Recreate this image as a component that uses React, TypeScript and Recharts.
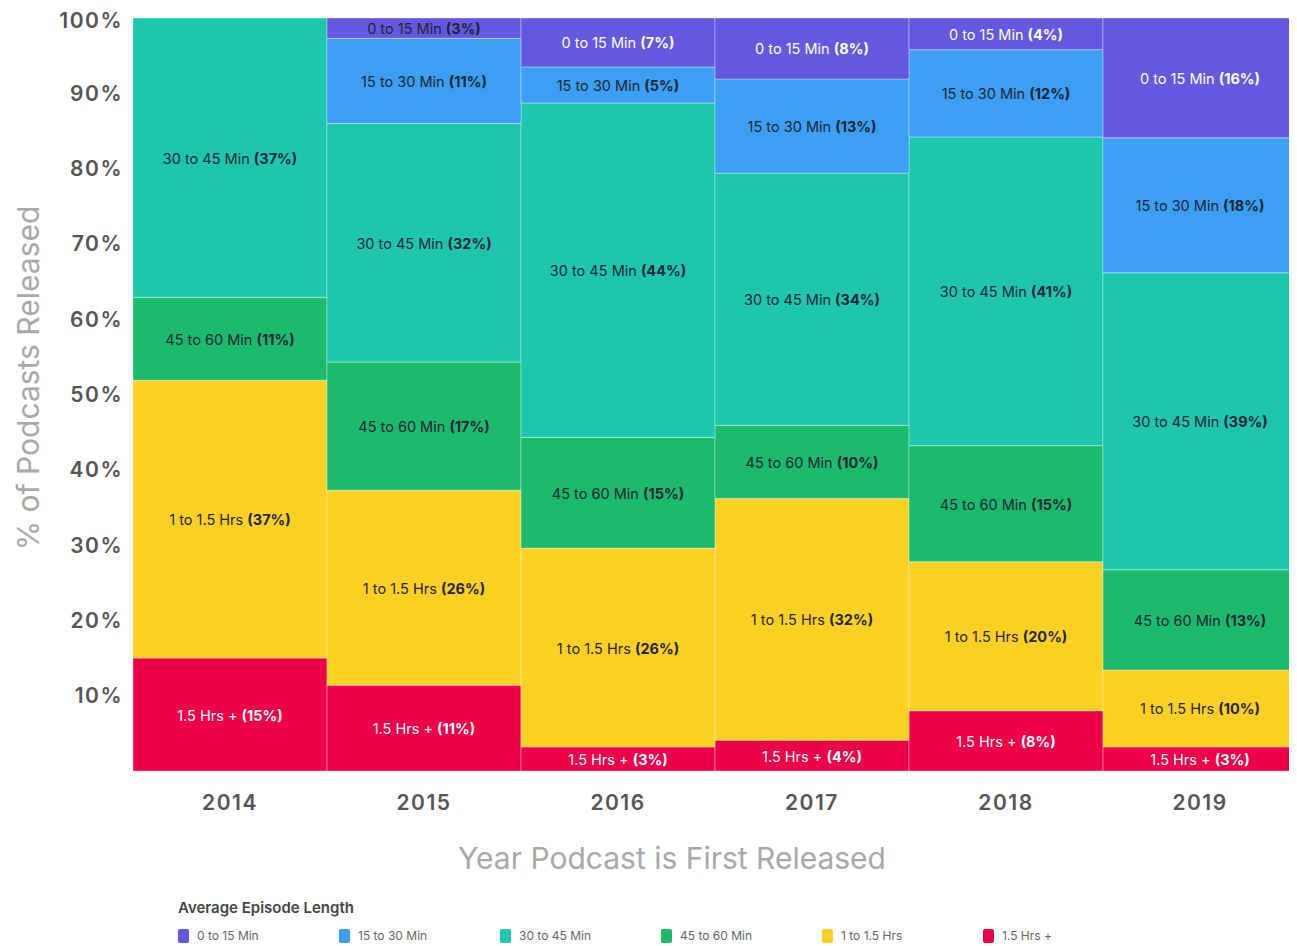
import { Bar, BarChart, LabelList, XAxis, YAxis } from 'recharts';

// Share of podcasts by average episode length, per first-release year (values in %).
const YEARS = ['2014', '2015', '2016', '2017', '2018', '2019'];
const MIN_0_15 = [0, 2.7, 6.5, 8.1, 4.2, 15.9];
const MIN_15_30 = [0, 11.3, 4.8, 12.5, 11.6, 17.9];
const MIN_30_45 = [37.1, 31.7, 44.4, 33.5, 41, 39.4];
const MIN_45_60 = [11, 17, 14.7, 9.7, 15.4, 13.3];
const HRS_1_15 = [36.9, 25.9, 26.4, 32.1, 19.8, 10.2];
const HRS_15_PLUS = [15, 11.4, 3.2, 4.1, 8, 3.2];
const Y_TICKS = [0.1, 0.2, 0.3, 0.4, 0.5, 0.6, 0.7, 0.8, 0.9, 1];

// bottom of the stack first
const SERIES = [
  { key: 'hrs15plus', name: '1.5 Hrs +', color: '#ee0049', ink: '#ffffff' },
  { key: 'hrs1to15', name: '1 to 1.5 Hrs', color: '#fdd124', ink: '#1d2433' },
  { key: 'min45to60', name: '45 to 60 Min', color: '#1bba6c', ink: '#1d2433' },
  { key: 'min30to45', name: '30 to 45 Min', color: '#1ec6ae', ink: '#1d2433' },
  { key: 'min15to30', name: '15 to 30 Min', color: '#3c9ff3', ink: '#1d2433' },
  { key: 'min0to15', name: '0 to 15 Min', color: '#6458e1', ink: '#ffffff' },
];
const VALUES: Record<string, number[]> = {
  hrs15plus: HRS_15_PLUS,
  hrs1to15: HRS_1_15,
  min45to60: MIN_45_60,
  min30to45: MIN_30_45,
  min15to30: MIN_15_30,
  min0to15: MIN_0_15,
};

const data = YEARS.map((year, i) => {
  const row: Record<string, string | number> = { year };
  SERIES.forEach((s) => {
    row[s.key] = VALUES[s.key][i];
  });
  return row;
});

const FONT = 'Inter, "Noto Sans", sans-serif';

function SegmentLabel(props: any, s: (typeof SERIES)[number]) {
  const { x, y, width, height, value } = props;
  const v = Array.isArray(value) ? (value[1] - value[0]) * 100 : Number(value);
  if (!v || !height) return null;
  // the thin 2015 sliver gets dark text in the original
  const ink = Math.abs(Number(height)) < 24 && s.key === 'min0to15' ? '#1d2433' : s.ink;
  return (
    <text
      x={Number(x) + Number(width) / 2}
      y={Number(y) + Number(height) / 2}
      textAnchor="middle"
      dominantBaseline="central"
      fontSize={14.5}
      fontFamily={FONT}
      fill={ink}
    >
      <tspan>{s.name} </tspan>
      <tspan fontWeight={700}>({Math.round(v)}%)</tspan>
    </text>
  );
}

function LegendBox() {
  const items = [...SERIES].reverse();
  return (
    <div style={{ fontFamily: FONT, position: 'absolute', left: 170, top: 890 }}>
      <div style={{ fontSize: 15, fontWeight: 600, color: '#444', marginBottom: 11 }}>Average Episode Length</div>
      <div style={{ display: 'flex' }}>
        {items.map((s) => (
          <div key={s.key} style={{ width: 161, display: 'flex', alignItems: 'center', gap: 8 }}>
            <span style={{ width: 11, height: 14, borderRadius: 2, background: s.color, display: 'inline-block' }} />
            <span style={{ fontSize: 12, color: '#666' }}>{s.name}</span>
          </div>
        ))}
      </div>
    </div>
  );
}

export default function App() {
  return (
    <div style={{ position: 'relative', width: 1289, height: 938 }}>
      <BarChart
        width={1289}
        height={938}
        data={data}
        stackOffset="expand"
        barCategoryGap={0}
        margin={{ top: 10, right: 0, left: 0, bottom: 115 }}
      >
        <XAxis
          dataKey="year"
          axisLine={false}
          tickLine={false}
          tickMargin={18}
          height={60}
          tick={{ fontSize: 21, fontWeight: 600, fill: '#555', fontFamily: FONT, letterSpacing: 1.5 }}
          label={{
            value: 'Year Podcast is First Released',
            position: 'bottom',
            offset: 17,
            dx: -43,
            style: { fontSize: 30, fill: '#a8a8a8', fontFamily: FONT },
          }}
        />
        <YAxis
          domain={[0, 1]}
          ticks={Y_TICKS}
          tickFormatter={(v) => `${Math.round(v * 100)}%`}
          axisLine={false}
          tickLine={false}
          width={125}
          tickMargin={4}
          tick={{ fontSize: 21, fontWeight: 600, fill: '#555', fontFamily: FONT, letterSpacing: 1.5 }}
          label={{
            content: () => (
              <text
                x={20}
                y={370}
                transform="rotate(-90 20 370)"
                textAnchor="middle"
                dominantBaseline="central"
                fontSize={30}
                fill="#a8a8a8"
                fontFamily={FONT}
              >
                % of Podcasts Released
              </text>
            ),
          }}
        />
        {SERIES.map((s) => (
          <Bar
            key={s.key}
            dataKey={s.key}
            name={s.name}
            stackId="len"
            fill={s.color}
            stroke="rgba(255,255,255,0.35)"
            strokeWidth={1}
            isAnimationActive={false}
          >
            <LabelList dataKey={s.key} content={(p: any) => SegmentLabel(p, s)} />
          </Bar>
        ))}
      </BarChart>
      <LegendBox />
    </div>
  );
}
